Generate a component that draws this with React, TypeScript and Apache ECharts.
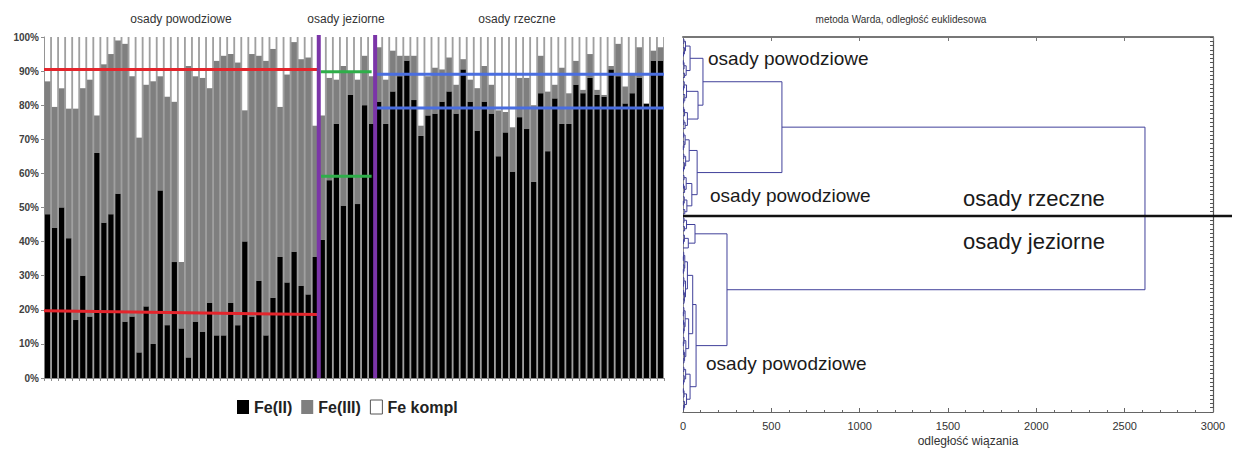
import React, { useEffect, useRef } from 'react';
import * as echarts from 'echarts';

// ---------- left chart: Fe speciation per sample ----------
const feII = [
  48, 44, 50, 41, 17, 30, 18, 66, 45.5, 48, 54, 16.5, 18, 7.5, 21, 10, 55, 15.5, 34, 14.5,
  6, 16.5, 13.5, 22, 12.5, 12.5, 22, 15.5, 40, 18, 28.5, 12.5, 23.5, 35.5, 28, 37, 27, 24.5, 35.5,
  40.5, 58, 74.5, 50.5, 83, 51, 80, 74.5,
  81, 74.5, 84, 88.5, 93, 81.5, 71, 77, 77.5, 81, 84, 77.5, 90.5, 81, 72.5, 81, 77.5, 65, 72, 60.5,
  76.5, 73, 57.5, 83.5, 66.5, 82, 74.5, 74.5, 86, 83.5, 88, 83, 82.5, 90.5, 88.5, 80.5, 83.5, 88, 80.5, 93, 93,
];
const feIII = [
  39, 35.5, 35, 38, 62, 55, 69.5, 11, 46.5, 47, 45, 81.5, 70.5, 63, 65, 77, 33.5, 67, 47, 19.5,
  85.5, 72, 74.5, 63, 80.5, 82, 73, 77, 38.5, 77, 66, 80.5, 73, 44, 61, 61.5, 66.5, 69.5, 38.5,
  36.5, 30, 13, 41, 7, 36.5, 14.5, 14,
  16, 13, 12, 6, 1.5, 13, 3, 11.5, 13.5, 9.5, 10, 8.5, 3, 6.5, 12.5, 10.5, 8.5, 13.5, 6, 13,
  11.5, 15, 22.5, 11, 17.5, 4, 16.5, 9, 7, 1, 7, 1.5, 0.5, 1, 9.5, 5, 5.5, 9, 0, 3, 4,
];
const feKompl = [
  13, 20.5, 15, 21, 21, 15, 12.5, 23, 8, 5, 1, 2, 11.5, 29.5, 14, 13, 11.5, 17.5, 19, 66,
  8.5, 11.5, 12, 15, 7, 5.5, 5, 7.5, 21.5, 5, 5.5, 7, 3.5, 20.5, 11, 1.5, 6.5, 6, 26,
  23, 12, 12.5, 8.5, 10, 12.5, 5.5, 11.5,
  3, 12.5, 4, 5.5, 5.5, 5.5, 26, 11.5, 9, 9.5, 6, 14, 6.5, 12.5, 15, 8.5, 14, 21.5, 22, 26.5,
  12, 12, 20, 5.5, 16, 14, 9, 16.5, 7, 15.5, 5, 15.5, 17, 8.5, 2, 14.5, 11, 3, 19.5, 4, 3,
];
const samples = feII.map((_, i) => 'P' + (i + 1));
const seriesNames = ['Fe(II)', 'Fe(III)', 'Fe kompl'];
const groupTitles = ['osady powodziowe', 'osady jeziorne', 'osady rzeczne'];

// annotation lines, in (sample position, percent)
const redUpper = [[0, 90.5], [39, 90.5]];
const redLower = [[0, 19.7], [39, 18.6]];
const greenUpper = [[39.3, 89.8], [46.5, 89.8]];
const greenLower = [[39.3, 59.2], [46.5, 59.2]];
const blueUpper = [[47.2, 89.1], [88, 89.1]];
const blueLower = [[47.2, 79.2], [88, 79.2]];
const purpleA = [[39, 100.6], [39, 0]];
const purpleB = [[47, 100.6], [47, 0]];

// ---------- right chart: Ward dendrogram ----------
// node = [linkage distance, left, right]; 0 = a leaf
const T1 = [113,
  [40, [14, [5, 0, 0], [8, 0, [3, 0, 0]]], [18, [6, [2, 0, 0], 0], [9, 0, 0]]],
  [85, [20, [7, 0, [3, 0, 0]], [10, 0, [4, 0, 0]]], [25, [9, [4, 0, 0], 0], [12, [5, 0, 0], 0]]]];
const T2 = [80,
  [35, [12, [4, 0, 0], [6, 0, [2, 0, 0]]], [15, [5, 0, 0], [8, 0, [3, 0, 0]]]],
  [50, [18, [6, 0, 0], [9, [3, 0, 0], 0]], [22, [7, 0, [2, 0, 0]], [10, 0, 0]]]];
const BB1 = [68, [20, [6, 0, 0], [9, 0, 0]], [30, [8, 0, [3, 0, 0]], 0]];
const E1 = [25, [10, [4, 0, [2, 0, 0]], [6, 0, [2, 0, 0]]], [14, [5, 0, [3, 0, 0]], [8, [4, 0, 0], [6, 0, 0]]]];
const E2 = [32, [12, [5, 0, [2, 0, 0]], [7, [3, 0, 0], [4, 0, 0]]], [16, [6, 0, [2, 0, 0]], [9, [4, 0, 0], [5, 0, 0]]]];
const F = [40, [15, [5, 0, 0], [7, 0, [3, 0, 0]]], [20, [6, [2, 0, 0], 0], [9, 0, [4, 0, 0]]]];
const upperCluster = [560, T1, T2];
const lowerCluster = [249, BB1, [74, [55, E1, E2], F]];
const dendroRoot = [2615, upperCluster, lowerCluster];
const leafCount = 88;
const separatorLeaf = 42;
const distTicks = [0, 500, 1000, 1500, 2000, 2500, 3000];

function dendroLinks(root: any) {
  const links: number[][] = [];
  let leaf = 0;
  const walk = (n: any): { x: number; y: number } => {
    if (typeof n === 'number') {
      const y = leaf + 0.5;
      leaf++;
      return { x: 0, y };
    }
    const a = walk(n[1]);
    const b = walk(n[2]);
    links.push([n[0], a.y, b.y, a.x, b.x]);
    return { x: n[0], y: (a.y + b.y) / 2 };
  };
  walk(root);
  return links;
}

const FONT = 'Liberation Sans, Arial, sans-serif';

function lineSeries(data: number[][], color: string, width: number) {
  return {
    type: 'line', xAxisIndex: 1, yAxisIndex: 0, data, symbol: 'none', silent: true,
    clip: false, z: 10, lineStyle: { color, width }, legendHoverLink: false,
  };
}

function txt(text: string, x: number, y: number, size: number, align: string, fill = '#333') {
  return { type: 'text', x, y, style: { text, fill, font: `${size}px ${FONT}`, align, verticalAlign: 'middle' } };
}

export default function App() {
  const ref = useRef<HTMLDivElement>(null);
  useEffect(() => {
    if (!ref.current) return;
    const chart = echarts.init(ref.current, null, { renderer: 'svg' });
    const links = dendroLinks(dendroRoot);
    const gray = '#8c8c8c';
    chart.setOption({
      animation: false,
      backgroundColor: '#ffffff',
      textStyle: { fontFamily: FONT },
      legend: {
        left: 232, top: 394, itemWidth: 12, itemHeight: 14, itemGap: 9, icon: 'rect',
        textStyle: { fontSize: 16, fontWeight: 'bold', color: '#222', fontFamily: FONT },
        data: [
          { name: seriesNames[0] },
          { name: seriesNames[1] },
          { name: seriesNames[2], itemStyle: { color: '#ffffff', borderColor: '#555', borderWidth: 1 } },
        ],
      },
      grid: [
        { left: 44, top: 37, width: 620, height: 341, show: true, backgroundColor: '#a0a0a0', borderWidth: 0 },
        { left: 683, top: 37, width: 530, height: 375, show: false },
      ],
      xAxis: [
        {
          type: 'category', gridIndex: 0, data: samples, boundaryGap: true,
          axisLine: { lineStyle: { color: gray } },
          axisTick: { show: true, interval: 0, length: 3, lineStyle: { color: gray } },
          axisLabel: { show: false },
        },
        { type: 'value', gridIndex: 0, min: 0, max: 88, show: false },
        {
          type: 'value', gridIndex: 1, min: 0, max: 3000, interval: 500, position: 'bottom',
          axisLine: { onZero: false, lineStyle: { color: '#666', width: 1.2 } },
          axisTick: { inside: true, length: 4, lineStyle: { color: '#666' } },
          minorTick: { show: true, splitNumber: 5, length: 2, lineStyle: { color: '#666' } },
          axisLabel: {
            color: '#333', fontSize: 11, margin: 8,
            formatter: (v: number) => (distTicks.indexOf(v) >= 0 ? String(v) : ''),
          },
          splitLine: { show: false },
        },
        {
          type: 'value', gridIndex: 1, min: 0, max: 3000, interval: 500, position: 'top',
          axisLine: { onZero: false, lineStyle: { color: '#777', width: 2 } },
          axisTick: { inside: true, length: 4, lineStyle: { color: '#777' } },
          axisLabel: { show: false }, splitLine: { show: false },
        },
      ],
      yAxis: [
        {
          type: 'value', gridIndex: 0, min: 0, max: 100, interval: 10,
          axisLine: { show: true, lineStyle: { color: gray } },
          axisTick: { show: true, length: 3, lineStyle: { color: gray } },
          axisLabel: { formatter: '{value}%', fontSize: 10, fontWeight: 'bold', color: '#404040', margin: 5 },
          splitLine: { show: false },
        },
        {
          type: 'value', gridIndex: 1, min: 0, max: leafCount, interval: 1, inverse: true, position: 'left',
          axisLine: { show: true, onZero: false, lineStyle: { color: '#888' } },
          axisTick: { show: false }, axisLabel: { show: false }, splitLine: { show: false },
        },
        {
          type: 'value', gridIndex: 1, min: 0, max: leafCount, interval: 1, inverse: true, position: 'right',
          axisLine: { show: true, onZero: false, lineStyle: { color: '#555', width: 1.2 } },
          axisTick: { show: true, inside: true, length: 3, lineStyle: { color: '#555' } },
          axisLabel: { show: false }, splitLine: { show: false },
        },
      ],
      series: [
        { name: seriesNames[0], type: 'bar', stack: 'fe', xAxisIndex: 0, yAxisIndex: 0, data: feII, barCategoryGap: '26%', itemStyle: { color: '#000000' } },
        { name: seriesNames[1], type: 'bar', stack: 'fe', xAxisIndex: 0, yAxisIndex: 0, data: feIII, barCategoryGap: '26%', itemStyle: { color: '#7f7f7f' } },
        { name: seriesNames[2], type: 'bar', stack: 'fe', xAxisIndex: 0, yAxisIndex: 0, data: feKompl, barCategoryGap: '26%', itemStyle: { color: '#ffffff' } },
        lineSeries(redUpper, '#e4252c', 3),
        lineSeries(redLower, '#e4252c', 3),
        lineSeries(greenUpper, '#2fae4a', 3),
        lineSeries(greenLower, '#2fae4a', 3),
        lineSeries(blueUpper, '#4a6ee0', 3),
        lineSeries(blueLower, '#4a6ee0', 3),
        lineSeries(purpleA, '#7b35a8', 4),
        lineSeries(purpleB, '#7b35a8', 4),
        {
          type: 'custom', xAxisIndex: 2, yAxisIndex: 1, data: links, silent: true,
          encode: { x: [0, 3, 4], y: [1, 2] },
          renderItem: (_p: any, api: any) => {
            const d = api.value(0), ya = api.value(1), yb = api.value(2), da = api.value(3), db = api.value(4);
            return {
              type: 'polyline',
              shape: { points: [api.coord([da, ya]), api.coord([d, ya]), api.coord([d, yb]), api.coord([db, yb])] },
              style: { stroke: '#40409a', lineWidth: 1, fill: null },
            };
          },
        },
      ],
      graphic: [
        txt(groupTitles[0], 181, 19, 12, 'center'),
        txt(groupTitles[1], 346, 19, 12, 'center'),
        txt(groupTitles[2], 517, 19, 12, 'center'),
        txt('metoda Warda, odległość euklidesowa', 901, 19, 10, 'center'),
        txt('odległość wiązania', 968, 441, 12, 'center'),
        txt('osady powodziowe', 708, 58, 19, 'left', '#1a1a1a'),
        txt('osady powodziowe', 710, 195, 19, 'left', '#1a1a1a'),
        txt('osady powodziowe', 706, 363, 19, 'left', '#1a1a1a'),
        txt('osady rzeczne', 963, 198, 22, 'left', '#1a1a1a'),
        txt('osady jeziorne', 963, 241, 22, 'left', '#1a1a1a'),
      ],
    });
    // black separator between the two main clusters, extending past the frame
    const p0 = chart.convertToPixel({ xAxisIndex: 2, yAxisIndex: 1 }, [0, separatorLeaf]) as number[];
    if (p0 && isFinite(p0[1])) {
      chart.setOption({
        graphic: [{
          type: 'line', id: 'sep', z: 20,
          shape: { x1: p0[0], y1: p0[1], x2: 1232, y2: p0[1] },
          style: { stroke: '#111', lineWidth: 2.5 },
        }],
      });
    }
    return () => chart.dispose();
  }, []);
  return <div ref={ref} style={{ position: 'fixed', left: 0, top: 0, width: 1235, height: 450 }} />;
}
